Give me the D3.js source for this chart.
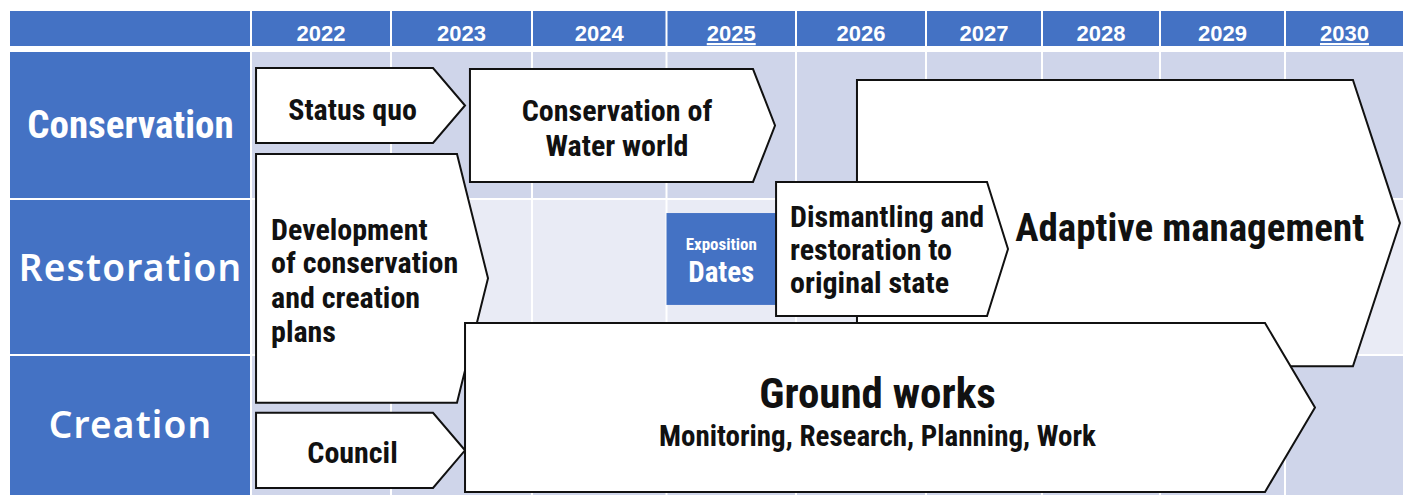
<!DOCTYPE html>
<html>
<head>
<meta charset="utf-8">
<script src="https://cdn.jsdelivr.net/npm/d3@7"></script>
<style>
  html, body { margin: 0; padding: 0; background: #fff; }
  svg { display: block; }
</style>
</head>
<body>
<div id="chart"></div>
<script>
// Data
const years = ["2022", "2023", "2024", "2025", "2026", "2027", "2028", "2029", "2030"];
const underlinedYears = ["2025", "2030"];
const themes = ["Conservation", "Restoration", "Creation"];

// each task: extents in years (start, end of body, arrow tip) and in row units (top, bottom)
const tasks = [
    { id: "status", lines: ["Status quo"], start: 2022.036, end: 2023.298, tip: 2023.525, top: 0.109, bottom: 0.619 },
    { id: "water", lines: ["Conservation of", "Water world"], start: 2023.56, end: 2025.668, tip: 2025.838, top: 0.116, bottom: 0.884 },
    { id: "dev", lines: ["Development", "of conservation", "and creation", "plans"], start: 2022.036, end: 2023.468, tip: 2023.688, top: 0.694, bottom: 2.336 },
    { id: "adaptive", lines: ["Adaptive management"], start: 2026.469, end: 2030.571, tip: 2030.966, top: 0.19, bottom: 2.079 },
    { id: "dismantle", lines: ["Dismantling and", "restoration to", "original state"], start: 2025.846, end: 2027.526, tip: 2027.707, top: 0.884, bottom: 1.75 },
    { id: "council", lines: ["Council"], start: 2022.036, end: 2023.298, tip: 2023.525, top: 2.407, bottom: 2.936 },
    { id: "ground", lines: ["Ground works", "Monitoring, Research, Planning, Work"], start: 2023.525, end: 2029.84, tip: 2030.252, top: 1.795, bottom: 2.964 }
];

// the blue "Exposition Dates" marker
const expo = { lines: ["Exposition", "Dates"], start: 2025.0, end: 2025.846, top: 1.09, bottom: 1.679 };

// Text styles per task (sizes, baseline offsets from box middle)
const textStyle = {
    status: { anchor: "middle", sizes: [30], dys: [14] },
    water: { anchor: "middle", sizes: [30, 30], dys: [-4.5, 30.5] },
    dev: { anchor: "start", pad: 15, sizes: [30, 30, 30, 30], dys: [-38, -5, 30, 64] },
    adaptive: { anchor: "middle", dx: 73, sizes: [39], dys: [18] },
    dismantle: { anchor: "start", pad: 14, sizes: [30, 30, 30], dys: [-22, 11, 44] },
    council: { anchor: "middle", sizes: [30], dys: [13] },
    ground: { anchor: "middle", sizes: [43, 29], dys: [1, 39] }
};

const width = 1408, height = 495;
const blue = "#4472C4";
const rowFill = ["#CFD5EA", "#E9EBF5", "#CFD5EA"];
const narrow = "'Liberation Sans Narrow', 'Arial Narrow', 'Roboto Condensed', sans-serif";

const svg = d3.select("#chart").append("svg")
    .attr("width", width)
    .attr("height", height);

// column edges are not even in the original table
const x = d3.scaleLinear()
    .domain(d3.range(2022, 2032))
    .range([251, 391, 532, 666.5, 796, 926, 1042, 1160, 1285, 1404]);

const y = d3.scaleLinear()
    .domain([0, 1, 2, 3])
    .range([52, 199, 355, 497]);

const headerTop = 11, headerBottom = 46;
const labelLeft = 10;

// Header row
svg.append("rect")
    .attr("x", labelLeft).attr("y", headerTop)
    .attr("width", x(2022) - 1 - labelLeft).attr("height", headerBottom - headerTop)
    .attr("fill", blue);

years.forEach(yr => {
    const y0 = +yr;
    svg.append("rect")
        .attr("x", x(y0) + 1).attr("y", headerTop)
        .attr("width", x(y0 + 1) - x(y0) - 2).attr("height", headerBottom - headerTop)
        .attr("fill", blue);
    svg.append("text")
        .attr("x", (x(y0) + x(y0 + 1)) / 2)
        .attr("y", 41)
        .attr("text-anchor", "middle")
        .attr("font-family", "'Liberation Sans', Arial, sans-serif")
        .attr("font-weight", "bold")
        .attr("font-size", "22px")
        .attr("fill", "#fff")
        .style("text-decoration", underlinedYears.includes(yr) ? "underline" : null)
        .text(yr);
});

// Body cells
themes.forEach((theme, i) => {
    const top = y(i) + (i === 0 ? 0 : 1);
    const bottom = y(i + 1) - 1;

    svg.append("rect")
        .attr("x", labelLeft).attr("y", top)
        .attr("width", x(2022) - 1 - labelLeft).attr("height", bottom - top)
        .attr("fill", blue);

    years.forEach(yr => {
        const y0 = +yr;
        svg.append("rect")
            .attr("x", x(y0) + 1).attr("y", top)
            .attr("width", x(y0 + 1) - x(y0) - 2).attr("height", bottom - top)
            .attr("fill", rowFill[i]);
    });
});

// Theme labels
const labelStyle = [
    { font: narrow, weight: "bold", size: 39, spacing: 0, baseline: 138 },
    { font: "'Noto Sans', sans-serif", weight: 600, size: 37, spacing: 1.2, baseline: 281 },
    { font: "'Noto Sans', sans-serif", weight: 600, size: 37, spacing: 1.2, baseline: 438 }
];
themes.forEach((theme, i) => {
    const s = labelStyle[i];
    svg.append("text")
        .attr("x", (labelLeft + x(2022)) / 2)
        .attr("y", s.baseline)
        .attr("text-anchor", "middle")
        .attr("font-family", s.font)
        .attr("font-weight", s.weight)
        .attr("font-size", s.size + "px")
        .attr("letter-spacing", s.spacing)
        .attr("fill", "#fff")
        .text(theme);
});

// Arrow boxes
function arrowPath(d) {
    const x0 = x(d.start), x1 = x(d.end), xt = x(d.tip);
    const y0 = y(d.top), y1 = y(d.bottom), ym = (y0 + y1) / 2;
    return `M${x0},${y0}L${x1},${y0}L${xt},${ym}L${x1},${y1}L${x0},${y1}Z`;
}

function drawLines(g, lines, style, cx, ym, color) {
    lines.forEach((line, k) => {
        g.append("text")
            .attr("x", cx)
            .attr("y", ym + style.dys[k])
            .attr("text-anchor", style.anchor)
            .attr("font-family", narrow)
            .attr("font-weight", "bold")
            .attr("font-size", style.sizes[k] + "px")
            .attr("fill", color)
            .text(line);
    });
}

tasks.forEach(d => {
    // expo marker sits under the dismantling box
    if (d.id === "dismantle") drawExpo();

    const g = svg.append("g");
    g.append("path")
        .attr("d", arrowPath(d))
        .attr("fill", "#fff")
        .attr("stroke", "#111")
        .attr("stroke-width", 2);

    const s = textStyle[d.id];
    const ym = (y(d.top) + y(d.bottom)) / 2;
    const cx = s.anchor === "start"
        ? x(d.start) + s.pad
        : (x(d.start) + (x(d.end) + x(d.tip)) / 2) / 2 + (s.dx || 0);
    drawLines(g, d.lines, s, cx, ym, "#111");
});

function drawExpo() {
    const g = svg.append("g");
    g.append("rect")
        .attr("x", x(expo.start)).attr("y", y(expo.top))
        .attr("width", x(expo.end) - x(expo.start))
        .attr("height", y(expo.bottom) - y(expo.top))
        .attr("fill", blue);
    const ym = (y(expo.top) + y(expo.bottom)) / 2;
    drawLines(g, expo.lines, { anchor: "middle", sizes: [17, 29], dys: [-9, 23] },
        (x(expo.start) + x(expo.end)) / 2, ym, "#fff");
}
</script>
</body>
</html>
